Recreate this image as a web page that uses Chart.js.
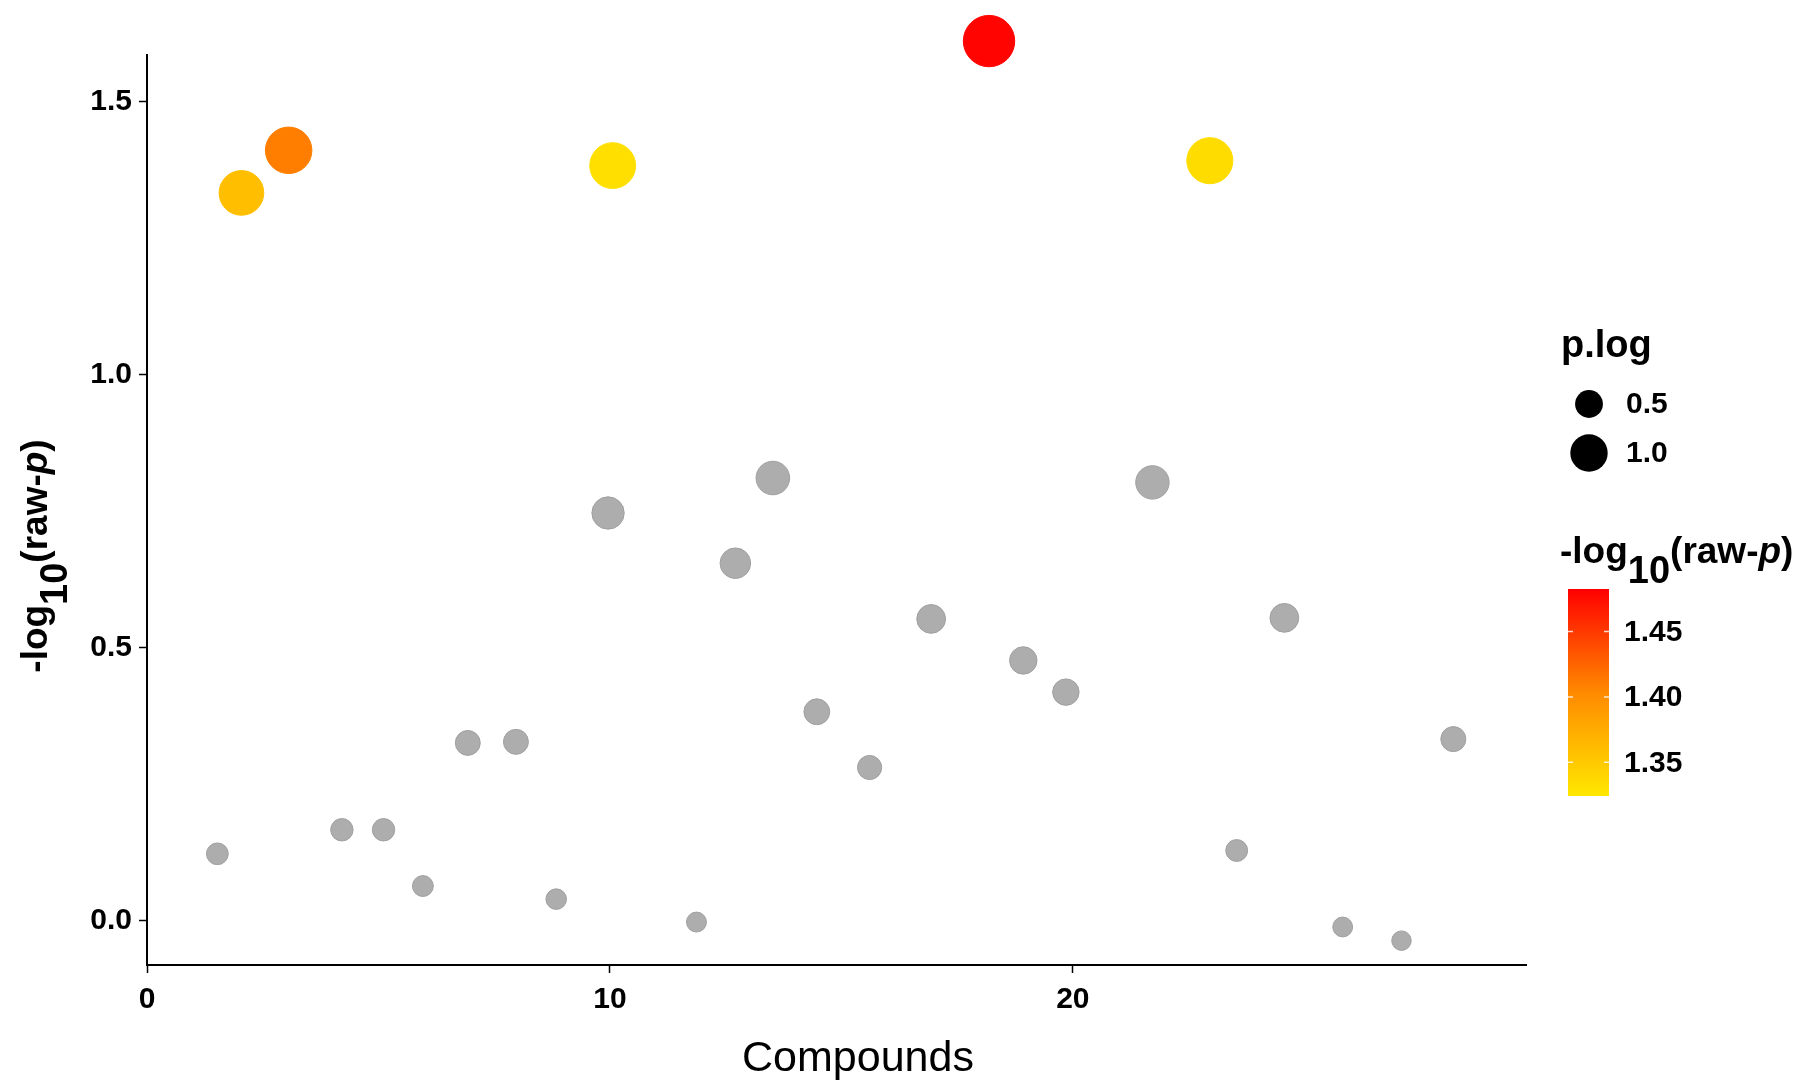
<!DOCTYPE html>
<html>
<head>
<meta charset="utf-8">
<script src="https://cdn.jsdelivr.net/npm/chart.js@4.4.1/dist/chart.umd.min.js"></script>
<style>
  body { margin: 0; background: #fff; }
  canvas { display: block; }
</style>
</head>
<body>
<canvas id="grafico" width="1810" height="1091"></canvas>
<script>
// compound position on the x axis
const compounds = [1.52, 2.04, 3.06, 4.21, 5.11, 5.96, 6.93, 7.97, 8.84, 9.96, 10.06, 11.87, 12.71, 13.52,
    14.47, 15.61, 16.94, 18.19, 18.93, 19.85, 21.72, 22.96, 23.54, 24.57, 25.83, 27.10, 28.22];
// -log10(raw-p), also used as p.log for the point size
const logP = [0.123, 1.333, 1.411, 0.167, 0.167, 0.064, 0.326, 0.328, 0.040, 0.747, 1.383, -0.002, 0.655, 0.811,
    0.383, 0.281, 0.553, 1.611, 0.477, 0.419, 0.803, 1.392, 0.129, 0.555, -0.011, -0.036, 0.333];
// colour value of the significant compounds (null = grey)
const colourValue = [null, 1.359, 1.410, null, null, null, null, null, null, null, 1.332, null, null, null,
    null, null, null, 1.480, null, null, null, 1.334, null, null, null, null, null];

const xTicks = [0, 10, 20];
const yTicks = [0, 0.5, 1.0, 1.5];
const sizeBreaks = [0.5, 1.0];
const colourTicks = [1.35, 1.40, 1.45];
const colourMin = 1.3242;
const colourMax = 1.4825;

const fonte = 'Liberation Sans';

function raio(v) {
    return 10 + 7 * v + 1.7 * v * v;
}

const stops = [[0, [255, 232, 0]], [0.5, [255, 138, 0]], [1, [255, 0, 0]]];
function corPara(v) {
    let t = (v - colourMin) / (colourMax - colourMin);
    t = Math.max(0, Math.min(1, t));
    for (let i = 1; i < stops.length; i++) {
        if (t <= stops[i][0]) {
            const a = stops[i - 1], b = stops[i];
            const f = (t - a[0]) / (b[0] - a[0]);
            const c = a[1].map((x, k) => Math.round(x + (b[1][k] - x) * f));
            return 'rgb(' + c.join(',') + ')';
        }
    }
    return 'rgb(255,0,0)';
}

function tituloLog(ctx, x, y, align) {
    const partes = [
        { t: '-log', f: 'bold 37px ' + fonte, dy: 0 },
        { t: '10', f: 'bold 38px ' + fonte, dy: 20 },
        { t: '(raw-', f: 'bold 37px ' + fonte, dy: 0 },
        { t: 'p', f: 'italic bold 37px ' + fonte, dy: 0 },
        { t: ')', f: 'bold 37px ' + fonte, dy: 0 }
    ];
    let total = 0;
    partes.forEach(p => { ctx.font = p.f; p.w = ctx.measureText(p.t).width; total += p.w; });
    let cx = align === 'center' ? x - total / 2 : x;
    ctx.fillStyle = '#000';
    ctx.textAlign = 'left';
    ctx.textBaseline = 'alphabetic';
    partes.forEach(p => {
        ctx.font = p.f;
        ctx.fillText(p.t, cx, y + p.dy);
        cx += p.w;
    });
}

const legendas = {
    id: 'legendas',
    afterDraw(chart) {
        const ctx = chart.ctx;
        ctx.save();

        // axis titles
        ctx.fillStyle = '#000';
        ctx.font = '43px ' + fonte;
        ctx.textAlign = 'center';
        ctx.textBaseline = 'alphabetic';
        ctx.fillText('Compounds', 858, 1071);

        ctx.save();
        ctx.translate(47, 556);
        ctx.rotate(-Math.PI / 2);
        tituloLog(ctx, 0, 0, 'center');
        ctx.restore();

        // size legend
        ctx.fillStyle = '#000';
        ctx.font = 'bold 38px ' + fonte;
        ctx.textAlign = 'left';
        ctx.textBaseline = 'alphabetic';
        ctx.fillText('p.log', 1561, 357);
        const ySize = [404, 453];
        sizeBreaks.forEach((v, i) => {
            ctx.beginPath();
            ctx.arc(1589, ySize[i], raio(v), 0, Math.PI * 2);
            ctx.fillStyle = '#000';
            ctx.fill();
            ctx.font = 'bold 30px ' + fonte;
            ctx.textBaseline = 'middle';
            ctx.fillText(v.toFixed(1), 1626, ySize[i] + 1);
        });

        // colour legend
        tituloLog(ctx, 1560, 563, 'left');
        const barX = 1568, barW = 41, barTop = 589, barBot = 796;
        const grad = ctx.createLinearGradient(0, barBot, 0, barTop);
        stops.forEach(s => grad.addColorStop(s[0], 'rgb(' + s[1].join(',') + ')'));
        ctx.fillStyle = grad;
        ctx.fillRect(barX, barTop, barW, barBot - barTop);
        colourTicks.forEach(v => {
            const y = barBot - (v - colourMin) / (colourMax - colourMin) * (barBot - barTop);
            ctx.strokeStyle = 'rgba(255,255,255,0.8)';
            ctx.lineWidth = 1.5;
            ctx.beginPath();
            ctx.moveTo(barX, y); ctx.lineTo(barX + 5, y);
            ctx.moveTo(barX + barW - 5, y); ctx.lineTo(barX + barW, y);
            ctx.stroke();
            ctx.fillStyle = '#000';
            ctx.font = 'bold 30px ' + fonte;
            ctx.textBaseline = 'middle';
            ctx.textAlign = 'left';
            ctx.fillText(v.toFixed(2), 1624, y + 1);
        });
        ctx.restore();
    }
};

const pontos = compounds.map((x, i) => ({ x: x, y: logP[i] }));

const grafico = new Chart(document.getElementById('grafico').getContext('2d'), {
    type: 'scatter',
    data: {
        datasets: [{
            label: 'compounds',
            data: pontos,
            clip: false,
            pointRadius: ctx => raio(logP[ctx.dataIndex]),
            pointHoverRadius: ctx => raio(logP[ctx.dataIndex]),
            pointBackgroundColor: ctx => colourValue[ctx.dataIndex] == null ? '#ADADAD' : corPara(colourValue[ctx.dataIndex]),
            pointBorderColor: ctx => colourValue[ctx.dataIndex] == null ? '#A0A0A0' : corPara(colourValue[ctx.dataIndex]),
            pointBorderWidth: 1
        }]
    },
    options: {
        responsive: false,
        animation: false,
        devicePixelRatio: 1,
        layout: {
            padding: { top: 55, right: 284, left: 0, bottom: 0 }
        },
        scales: {
            x: {
                type: 'linear',
                min: 0,
                max: 29.79,
                afterBuildTicks: s => { s.ticks = xTicks.map(v => ({ value: v })); },
                afterFit: s => { s.height = 126; },
                grid: {
                    drawOnChartArea: false,
                    tickLength: 8,
                    tickColor: '#000',
                    tickWidth: 1.5
                },
                border: { color: '#000', width: 2 },
                ticks: {
                    color: '#000',
                    padding: 9,
                    maxRotation: 0,
                    font: { family: fonte, size: 30, weight: 'bold' }
                },
                title: { display: false }
            },
            y: {
                type: 'linear',
                min: -0.0806,
                max: 1.5855,
                afterBuildTicks: s => { s.ticks = yTicks.map(v => ({ value: v })); },
                afterFit: s => { s.width = 147; },
                grid: {
                    drawOnChartArea: false,
                    tickLength: 8,
                    tickColor: '#000',
                    tickWidth: 1.5
                },
                border: { color: '#000', width: 2 },
                ticks: {
                    color: '#000',
                    padding: 7,
                    callback: v => v.toFixed(1),
                    font: { family: fonte, size: 30, weight: 'bold' }
                }
            }
        },
        plugins: {
            legend: { display: false },
            tooltip: { enabled: false }
        }
    },
    plugins: [legendas]
});
</script>
</body>
</html>
